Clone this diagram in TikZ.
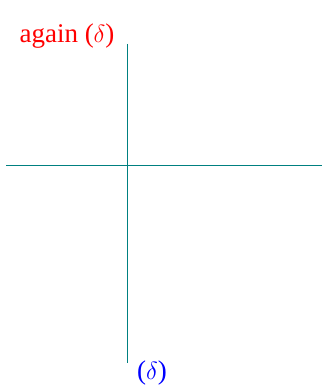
\documentclass[tikz,border=0pt]{standalone}
\usepackage{fontspec}
\setmainfont{Liberation Serif}
\usetikzlibrary{positioning}
\definecolor{axisteal}{RGB}{0,128,128}
\tikzset{
  axis/.style={line width=1pt,axisteal},
  lbl/.style={font=\fontsize{27}{30}\selectfont,inner sep=0pt},
  redlbl/.style={lbl,red},
  bluelbl/.style={lbl,blue},
}
\begin{document}
\begin{tikzpicture}[x=1pt,y=1pt]
    \useasboundingbox (0,0) rectangle (322,385);
    % axes
    \coordinate (vtop) at (127,341);
    \coordinate (vbot) at (127,22);
    \coordinate (hleft) at (6,219);
    \coordinate (hright) at (322,219);
    \draw[axis] (vtop) -- (vbot);
    \draw[axis] (hleft) -- (hright);
    % labels
    \node[redlbl] (again) at (67,349) {again ($\delta$)};
    \node[bluelbl] (delta) at (152,12) {($\delta$)};
\end{tikzpicture}
\end{document}
